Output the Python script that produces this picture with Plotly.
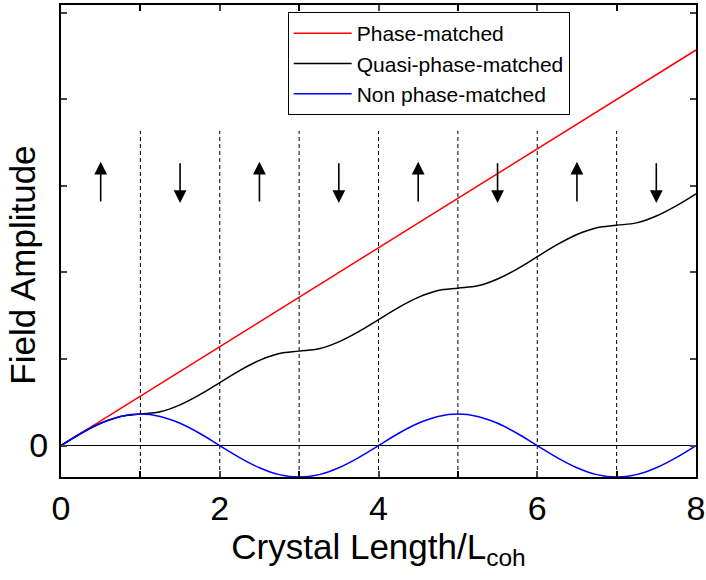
import plotly.graph_objects as go

# ---- data (y in units of the non-phase-matched amplitude) ----
x_grid = [0, 0.25, 0.5, 0.75, 1, 1.25, 1.5, 1.75, 2, 2.25, 2.5, 2.75, 3, 3.25, 3.5, 3.75, 4,
          4.25, 4.5, 4.75, 5, 5.25, 5.5, 5.75, 6, 6.25, 6.5, 6.75, 7, 7.25, 7.5, 7.75, 8]
non_pm = [0, 0.383, 0.707, 0.924, 1, 0.924, 0.707, 0.383, 0, -0.383, -0.707, -0.924, -1, -0.924, -0.707, -0.383, 0,
          0.383, 0.707, 0.924, 1, 0.924, 0.707, 0.383, 0, -0.383, -0.707, -0.924, -1, -0.924, -0.707, -0.383, 0]
quasi_pm = [0, 0.383, 0.707, 0.924, 1, 1.076, 1.293, 1.617, 2, 2.383, 2.707, 2.924, 3, 3.076, 3.293, 3.617, 4,
            4.383, 4.707, 4.924, 5, 5.076, 5.293, 5.617, 6, 6.383, 6.707, 6.924, 7, 7.076, 7.293, 7.617, 8]
pm_x = [0, 8]
pm_y = [0, 12.57]

domain_boundaries = [1, 2, 3, 4, 5, 6, 7]
boundary_top = 10.0
arrow_x = [0.5, 1.5, 2.5, 3.5, 4.5, 5.5, 6.5, 7.5]
arrow_dir = ["up", "down", "up", "down", "up", "down", "up", "down"]
arrow_low, arrow_high = 7.71, 9.02

x_ticks = [0, 2, 4, 6, 8]
y_ticks = [0, 2.75, 5.5, 8.25, 11, 13.75]
y_ticktext = ["0", "", "", "", "", ""]

FONT = "Liberation Sans, Arial, sans-serif"

fig = go.Figure()
fig.add_trace(go.Scatter(x=pm_x, y=pm_y, mode="lines", name="Phase-matched",
                         line=dict(color="#ff0000", width=1.5)))
fig.add_trace(go.Scatter(x=x_grid, y=quasi_pm, mode="lines", name="Quasi-phase-matched",
                         line=dict(color="#000000", width=1.5, shape="spline")))
fig.add_trace(go.Scatter(x=x_grid, y=non_pm, mode="lines", name="Non phase-matched",
                         line=dict(color="#0000ff", width=1.5, shape="spline")))

for b in domain_boundaries:
    fig.add_shape(type="line", x0=b, x1=b, y0=-1, y1=boundary_top, xref="x", yref="y",
                  line=dict(color="black", width=1, dash="4px,3px"), layer="below")

for ax_, d in zip(arrow_x, arrow_dir):
    head, tail = (arrow_high, arrow_low) if d == "up" else (arrow_low, arrow_high)
    fig.add_annotation(x=ax_, y=head, ax=ax_, ay=tail, xref="x", yref="y", axref="x", ayref="y",
                       text="", showarrow=True, arrowhead=2, arrowsize=1.6, arrowwidth=1.6,
                       arrowcolor="black", standoff=0, startstandoff=0)

fig.add_annotation(text="Field Amplitude", textangle=-90, xref="paper", yref="paper",
                   x=-0.062, y=0.449, xanchor="center", yanchor="middle", showarrow=False,
                   font=dict(family=FONT, size=35, color="black"))

fig.update_layout(
    width=706, height=580,
    margin=dict(l=61, r=10, t=5, b=103, autoexpand=False),
    plot_bgcolor="white", paper_bgcolor="white",
    font=dict(family=FONT, color="black"),
    showlegend=True,
    legend=dict(x=0.357, y=0.985, xanchor="left", yanchor="top",
                bordercolor="black", borderwidth=1, bgcolor="white",
                font=dict(family=FONT, size=21, color="black"),
                tracegroupgap=0, itemwidth=58),
)
fig.update_xaxes(range=[0, 8], tickvals=x_ticks, ticks="inside", ticklen=6, tickwidth=1.5,
                 showline=True, linewidth=2, linecolor="black", mirror="ticks",
                 showgrid=False, zeroline=False, automargin=False, ticklabelstandoff=0,
                 minor=dict(dtick=1, ticks="inside", ticklen=6, tickwidth=1.5, tickcolor="black"),
                 tickfont=dict(family=FONT, size=34),
                 title=dict(text="Crystal Length/L<sub>coh</sub>", font=dict(family=FONT, size=35), standoff=0))
fig.update_yaxes(range=[-1, 14], tickvals=y_ticks, ticktext=y_ticktext, ticks="inside", ticklen=6,
                 tickwidth=1.5, showline=True, linewidth=2, linecolor="black", mirror="ticks",
                 showgrid=False, zeroline=True, zerolinecolor="black", zerolinewidth=1,
                 automargin=False, ticklabelstandoff=4,
                 tickfont=dict(family=FONT, size=34))

fig.write_html("out.html")
